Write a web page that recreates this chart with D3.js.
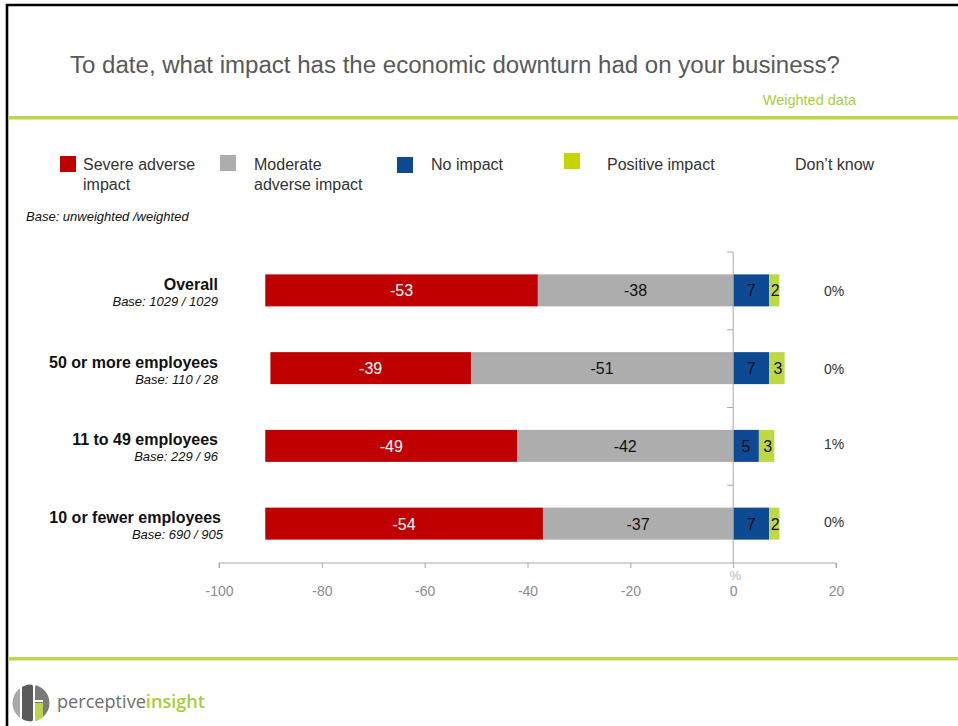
<!DOCTYPE html>
<html>
<head>
<meta charset="utf-8">
<script src="https://cdn.jsdelivr.net/npm/d3@7/dist/d3.min.js"></script>
<style>
  html, body { margin: 0; padding: 0; background: #fff; }
  svg { display: block; font-family: Arial, "Liberation Sans", sans-serif; }
</style>
</head>
<body>
<script>
// Survey: impact of the economic downturn, by business size (% of respondents)
const categories = ["Overall", "50 or more employees", "11 to 49 employees", "10 or fewer employees"];
const bases = ["Base: 1029 / 1029", "Base: 110 / 28", "Base: 229 / 96", "Base: 690 / 905"];
const severe = [-53, -39, -49, -54];
const moderate = [-38, -51, -42, -37];
const noImpact = [7, 7, 5, 7];
const positive = [2, 3, 3, 2];
const dontKnow = [0, 0, 1, 0];
const xTicks = [-100, -80, -60, -40, -20, 0, 20];

const seriesNames = ["Severe adverse impact", "Moderate adverse impact", "No impact", "Positive impact"];
const seriesColors = ["#C00000", "#ADADAD", "#0E4A94", "#BED841"];
const labelColors = ["#ffffff", "#111111", "#111111", "#111111"];

const W = 958, H = 726;
const svg = d3.select("body").append("svg").attr("width", W).attr("height", H);

// Slide frame
svg.append("path")
  .attr("d", `M7,${H} L7,5 L${W},5`)
  .attr("fill", "none").attr("stroke", "#000").attr("stroke-width", 2.6);

// Green rules
svg.append("rect").attr("x", 8).attr("y", 116).attr("width", W - 8).attr("height", 3.5).attr("fill", "#BDD44C");
svg.append("rect").attr("x", 8).attr("y", 657).attr("width", W - 8).attr("height", 3.5).attr("fill", "#BDD44C");

// Title
svg.append("text").attr("x", 70).attr("y", 73)
  .attr("font-size", 23).attr("fill", "#595959")
  .attr("textLength", 770).attr("lengthAdjust", "spacingAndGlyphs")
  .text("To date, what impact has the economic downturn had on your business?");
svg.append("text").attr("x", 856).attr("y", 105).attr("text-anchor", "end")
  .attr("font-size", 14.5).attr("fill", "#A9CF3C")
  .text("Weighted data");

// Legend
const legendItems = [
  { x: 60, y: 156, lines: ["Severe adverse", "impact"], tx: 83, color: seriesColors[0] },
  { x: 220, y: 155, lines: ["Moderate", "adverse impact"], tx: 254, color: seriesColors[1] },
  { x: 397, y: 157, lines: ["No impact"], tx: 431, color: seriesColors[2] },
  { x: 564, y: 153, lines: ["Positive impact"], tx: 607, color: "#C6D400" },
  { x: null, y: 0, lines: ["Don\u2019t know"], tx: 795, color: null }
];
const legend = svg.append("g");
legendItems.forEach(it => {
  if (it.color) {
    legend.append("rect").attr("x", it.x).attr("y", it.y).attr("width", 16).attr("height", 16).attr("fill", it.color);
  }
  it.lines.forEach((ln, i) => {
    legend.append("text").attr("x", it.tx).attr("y", 170 + i * 20)
      .attr("font-size", 16).attr("fill", "#333").text(ln);
  });
});
svg.append("text").attr("x", 26).attr("y", 221)
  .attr("font-size", 13).attr("font-style", "italic").attr("fill", "#111")
  .text("Base: unweighted /weighted");

// Scales
const x = d3.scaleLinear().domain([-100, 20]).range([219, 836]);
const y = d3.scaleBand().domain(categories).range([252, 563]).padding(0);
const barH = 32;

// Stacked segments: negatives stack leftwards from 0, positives rightwards
const rows = categories.map((c, i) => {
  const segs = [];
  segs.push({ s: 1, x0: 0, x1: moderate[i], v: moderate[i] });
  segs.push({ s: 0, x0: moderate[i], x1: moderate[i] + severe[i], v: severe[i] });
  segs.push({ s: 2, x0: 0, x1: noImpact[i], v: noImpact[i] });
  segs.push({ s: 3, x0: noImpact[i], x1: noImpact[i] + positive[i], v: positive[i] });
  return { c, segs };
});

const plot = svg.append("g");
rows.forEach(r => {
  const yTop = y(r.c) + (y.bandwidth() - barH) / 2 - 0.5;
  r.segs.forEach(sg => {
    const a = x(Math.min(sg.x0, sg.x1)), b = x(Math.max(sg.x0, sg.x1));
    plot.append("rect").attr("x", a).attr("y", yTop).attr("width", b - a).attr("height", barH)
      .attr("fill", seriesColors[sg.s]);
    plot.append("text").attr("x", (a + b) / 2 + (sg.s === 3 ? 1 : 0)).attr("y", yTop + barH / 2 + 6)
      .attr("text-anchor", "middle").attr("font-size", 16).attr("fill", labelColors[sg.s])
      .text(sg.v);
  });
});

// Category labels
categories.forEach((c, i) => {
  const cy = y(c) + y.bandwidth() / 2;
  const rx = i === 3 ? 221 : 218;
  svg.append("text").attr("x", rx).attr("y", cy - 1).attr("text-anchor", "end")
    .attr("font-size", 16).attr("font-weight", "bold").attr("fill", "#111").text(c);
  svg.append("text").attr("x", rx + (i === 3 ? 2 : 0)).attr("y", cy + 15).attr("text-anchor", "end")
    .attr("font-size", 13).attr("font-style", "italic").attr("fill", "#111").text(bases[i]);
});

// Don't know column
categories.forEach((c, i) => {
  const cy = y(c) + y.bandwidth() / 2;
  svg.append("text").attr("x", 834).attr("y", cy + 5 - (i >= 2 ? 2 : 0)).attr("text-anchor", "middle")
    .attr("font-size", 14).attr("fill", "#333").text(dontKnow[i] + "%");
});

// X axis
const axisColor = "#AAAAAA";
const xAxis = svg.append("g").attr("transform", "translate(0,563)")
  .call(d3.axisBottom(x).tickValues(xTicks).tickSize(5).tickPadding(18).tickFormat(d => String(d)));
xAxis.select(".domain").attr("stroke", axisColor).attr("d", `M${x(-100)},5V0H${x(20)}V5`);
xAxis.selectAll(".tick line").attr("stroke", axisColor);
xAxis.selectAll(".tick text").attr("font-size", 14).attr("fill", "#8C8C8C")
  .attr("font-family", "Arial, 'Liberation Sans', sans-serif");
svg.append("text").attr("x", x(0) + 2).attr("y", 580).attr("text-anchor", "middle")
  .attr("font-size", 13).attr("fill", "#B5B5B5").text("%");

// Category axis at zero
const yAxisG = svg.append("g").attr("transform", `translate(${x(0)},0)`);
yAxisG.append("line").attr("x1", 0).attr("x2", 0).attr("y1", 252).attr("y2", 563)
  .attr("stroke", axisColor).attr("stroke-width", 1);
const boundaries = categories.map(c => y(c));
boundaries.forEach(b => {
  yAxisG.append("line").attr("x1", -6).attr("x2", 0).attr("y1", b).attr("y2", b)
    .attr("stroke", axisColor).attr("stroke-width", 1);
});

// Footer logo
const logo = svg.append("g").attr("transform", "translate(31,703)");
const clipId = "logoClip";
logo.append("clipPath").attr("id", clipId).append("circle").attr("r", 18.5);
const lg = logo.append("g").attr("clip-path", `url(#${clipId})`);
lg.append("rect").attr("x", -19).attr("y", -19).attr("width", 8).attr("height", 38).attr("fill", "#A7A7A7");
lg.append("rect").attr("x", -9).attr("y", -19).attr("width", 11).attr("height", 38).attr("rx", 3).attr("fill", "#5A5A5A");
lg.append("rect").attr("x", 4).attr("y", -19).attr("width", 15).attr("height", 38).attr("rx", 4).attr("fill", "#7A7A7A");
lg.append("rect").attr("x", 4).attr("y", 0).attr("width", 8).attr("height", 19).attr("fill", "#BCD44A");
lg.append("rect").attr("x", 4).attr("y", -3).attr("width", 8).attr("height", 2).attr("fill", "#fff");
svg.append("text").attr("x", 57).attr("y", 708).attr("font-size", 18)
  .attr("font-family", "'Open Sans', 'Noto Sans', sans-serif")
  .attr("textLength", 148).attr("lengthAdjust", "spacingAndGlyphs")
  .call(t => {
    t.append("tspan").attr("fill", "#6E6E6E").text("perceptive");
    t.append("tspan").attr("fill", "#A9CD3A").attr("font-weight", "600").text("insight");
  });
</script>
</body>
</html>
